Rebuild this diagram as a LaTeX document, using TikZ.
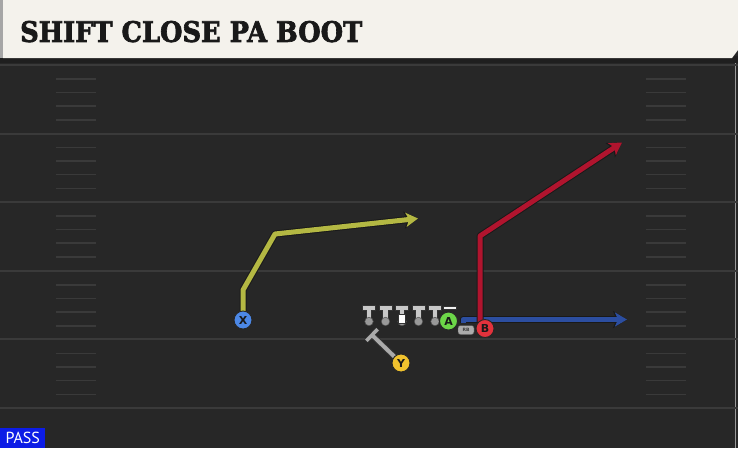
\documentclass[tikz,border=0pt]{standalone}
\usepackage{fontspec}
\newfontfamily\titlefont{DejaVu Serif}[FakeBold=2.5]
\newfontfamily\tagfont{DejaVu Sans}
\newfontfamily\passfont{PT Sans}
\usetikzlibrary{arrows.meta,calc}
\definecolor{fieldbg}{HTML}{272727}
\definecolor{yardln}{HTML}{3A3A3A}
\definecolor{hashln}{HTML}{3A3A3A}
\definecolor{titlebg}{HTML}{F4F2EC}
\definecolor{yroute}{HTML}{B4B843}
\definecolor{rroute}{HTML}{B0142E}
\definecolor{broute}{HTML}{2C4EA0}
\definecolor{xcol}{HTML}{4C88E6}
\definecolor{ycol}{HTML}{F0C22E}
\definecolor{acol}{HTML}{6CD648}
\definecolor{bcol}{HTML}{E2323C}
\definecolor{olgray}{HTML}{C8C8C8}
\definecolor{passblue}{HTML}{0C1CE6}
\tikzset{
  player/.style={circle,draw=black!85,line width=0.9pt,minimum size=18pt,inner sep=0pt,font=\tagfont\bfseries\fontsize{11}{11}\selectfont,text=black!90},
  routeout/.style={draw=black!90,line width=7pt,line join=round,-{Stealth[length=14pt,width=17pt,inset=3.5pt]}},
  routein/.style={line width=5pt,line join=round,-{Stealth[length=12pt,width=14pt,inset=3pt]}},
  yardline/.style={draw=yardln,line width=2pt},
  hashmark/.style={draw=hashln,line width=1.5pt}
}
\begin{document}
\begin{tikzpicture}[x=1pt,y=-1pt]
\useasboundingbox (0,0) rectangle (738,448);
% field
\fill[fieldbg] (0,0) rectangle (738,448);
\draw[draw=black!40,line width=1pt] (735.5,60) -- (735.5,448);
% yard lines and hashes
\foreach \yy in {65,133.6,202.2,270.8,339.4,408}{
  \draw[yardline] (0,\yy) -- (738,\yy);
}
\foreach \yy in {65,133.6,202.2,270.8,339.4}{
  \foreach \dd in {14,27.5,41,55}{
    \draw[hashmark] (56,\yy+\dd) -- (96,\yy+\dd);
    \draw[hashmark] (646,\yy+\dd) -- (686,\yy+\dd);
  }
}
% title bar
\fill[black!88] (0,56) rectangle (738,63);
\fill[black!35] (0,0) rectangle (4,58);
\fill[titlebg] (3,0) -- (738,0) -- (738,50) -- (732,58) -- (3,58) -- cycle;
\node[anchor=south west,inner sep=0pt,text=black!90] (title) at (20,42.5)
  {\resizebox{342pt}{21pt}{\titlefont\bfseries SHIFT CLOSE PA BOOT}};
% PASS tag
\node[anchor=south west,fill=passblue,text=white,inner sep=0pt,minimum width=45pt,minimum height=20pt,font=\passfont\fontsize{16}{16}\selectfont] (pass) at (0,448) {PASS};
% route coordinates
\coordinate (x1) at (243,290);
\coordinate (x2) at (275,234);
\coordinate (x3) at (418,218.5);
\coordinate (b0) at (480,322);
\coordinate (b1) at (480,236);
\coordinate (b2) at (622,142.5);
\coordinate (a0) at (463,323);
\coordinate (a1) at (463,319.5);
\coordinate (a2) at (627,319.5);
\coordinate (y1) at (372,335);
% players (positions)
\coordinate (Xc) at (243,320);
\coordinate (Yc) at (401,363);
% routes
\draw[routeout] (243,312) -- (x1) -- (x2) -- (x3);
\draw[routein,draw=yroute,yroute] (243,312) -- (x1) -- (x2) -- (x3);
\draw[routeout] (a0) -- (a1) -- (a2);
\draw[routein,draw=broute,broute] (a0) -- (a1) -- (a2);
\draw[routeout] (b0) -- (b1) -- (b2);
\draw[routein,draw=rroute,rroute] (b0) -- (b1) -- (b2);
% Y block
\draw[draw=black!80,line width=6pt] (Yc) -- (y1);
\draw[draw=black!80,line width=5pt] ($(y1)!8.5pt!90:(Yc)$) -- ($(y1)!8.5pt!-90:(Yc)$);
\draw[draw=olgray!85!black,line width=4pt] (Yc) -- (y1);
\draw[draw=olgray!85!black,line width=3.5pt] ($(y1)!8pt!90:(Yc)$) -- ($(y1)!8pt!-90:(Yc)$);
% linemen
\foreach \xx/\nm in {369/lt,385.5/lg,402/c,418.5/rg,435/rt}{
  \fill[black!80] (\xx-3.2,308) rectangle (\xx+3.2,321);
  \fill[black!80] (\xx-7,304.5) rectangle (\xx+7,310.5);
  \fill[olgray] (\xx-2.2,308) rectangle (\xx+2.2,320);
  \fill[olgray] (\xx-6,305.5) rectangle (\xx+6,309.5);
  \node[circle,fill=gray!80,draw=black!70,line width=0.5pt,minimum size=8.5pt,inner sep=0pt] (\nm) at (\xx,321.5) {};
}
\fill[black!80] (398,313.5) rectangle (406,323.5);
\fill[white] (399,314.5) rectangle (405,322.5);
\fill[black!80] (443,306) rectangle (457,310);
\fill[white!90!gray] (444,307) rectangle (456,309);
% RB tag
\node[rounded corners=2.5pt,fill=gray!65,draw=black!70,line width=0.4pt,minimum width=16pt,minimum height=9pt,inner sep=0pt,font=\tagfont\bfseries\fontsize{4.5}{4.5}\selectfont,text=black!75] (rb) at (466,330) {RB};
% player circles
\node[player,fill=xcol] (X) at (Xc) {X};
\node[player,fill=ycol] (Y) at (Yc) {Y};
\node[player,fill=acol] (A) at (448.5,321) {A};
\node[player,fill=bcol] (B) at (485,328.5) {B};
\end{tikzpicture}
\end{document}
